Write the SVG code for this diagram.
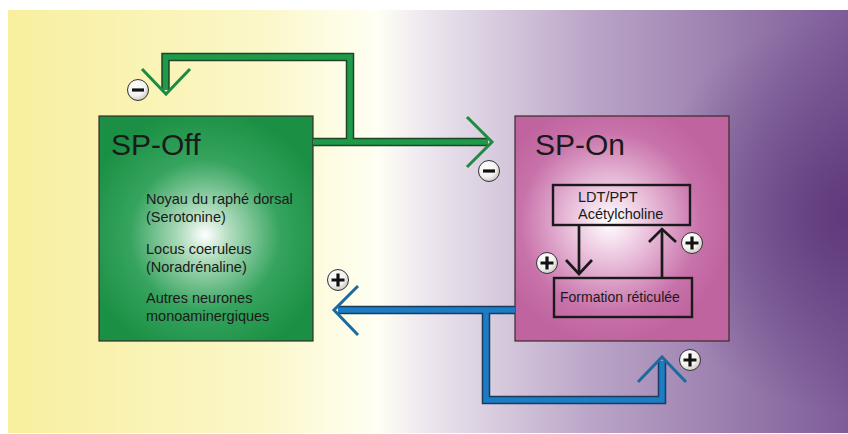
<svg xmlns="http://www.w3.org/2000/svg" width="848" height="434" viewBox="0 0 848 434">
<defs>
<linearGradient id="bg" x1="0" y1="0" x2="1" y2="0">
<stop offset="0" stop-color="#f8ef9e"/>
<stop offset="0.3" stop-color="#fbf7c8"/>
<stop offset="0.44" stop-color="#fffff4"/>
<stop offset="0.5" stop-color="#ece6ee"/>
<stop offset="0.7" stop-color="#b9a3c6"/>
<stop offset="1" stop-color="#7e5c98"/>
</linearGradient>
<radialGradient id="bgdark" cx="848" cy="215" r="200" gradientUnits="userSpaceOnUse">
<stop offset="0" stop-color="#5a3578" stop-opacity="0.9"/>
<stop offset="1" stop-color="#5a3578" stop-opacity="0"/>
</radialGradient>
<radialGradient id="gOff" cx="205" cy="235" r="125" gradientUnits="userSpaceOnUse">
<stop offset="0" stop-color="#ffffff"/>
<stop offset="0.2" stop-color="#b0dcbd"/>
<stop offset="0.6" stop-color="#36a45f"/>
<stop offset="1" stop-color="#1b9044"/>
</radialGradient>
<radialGradient id="gOn" cx="610" cy="222" r="120" gradientUnits="userSpaceOnUse">
<stop offset="0" stop-color="#ffffff"/>
<stop offset="0.3" stop-color="#ecc6df"/>
<stop offset="0.75" stop-color="#c872aa"/>
<stop offset="1" stop-color="#c0649f"/>
</radialGradient>
<radialGradient id="gCirc" cx="0.4" cy="0.35" r="0.7">
<stop offset="0" stop-color="#ffffff"/>
<stop offset="0.6" stop-color="#f4f2ee"/>
<stop offset="1" stop-color="#c8c4c0"/>
</radialGradient>
</defs>
<style>
text{font-family:"Liberation Sans",Arial,sans-serif;fill:#1a1a1a}
.title{font-size:30px}
.item{font-size:14.5px}
.box{stroke:#3a2a2a;stroke-width:1.2}
.inner{fill:none;stroke:#1a1a1a;stroke-width:2.4}
.outG{fill:none;stroke:#1d4628;stroke-width:8.5;stroke-linejoin:miter}
.inG{fill:none;stroke:#1e9a48;stroke-width:5.5;stroke-linejoin:miter}
.outB{fill:none;stroke:#1a3b5c;stroke-width:8.5;stroke-linejoin:miter}
.inB{fill:none;stroke:#1c7cc4;stroke-width:5.5;stroke-linejoin:miter}
.headG{fill:none;stroke:#1e8a42;stroke-width:3}
.headB{fill:none;stroke:#1c6a9e;stroke-width:3}
.blk{fill:none;stroke:#1a1a1a;stroke-width:2.7}
.circ{fill:url(#gCirc);stroke:#333;stroke-width:1}
.sign{stroke:#111;stroke-width:3.2;fill:none}
</style>
<rect x="8" y="10" width="840" height="423" fill="url(#bg)"/>
<rect x="8" y="10" width="840" height="423" fill="url(#bgdark)"/>

<g id="sp-off">
<rect class="box" x="99" y="116" width="214" height="225" fill="url(#gOff)"/>
<text class="title" x="111" y="155">SP-Off</text>
<text class="item" x="146" y="204">Noyau du raphé dorsal</text>
<text class="item" x="146" y="222">(Serotonine)</text>
<text class="item" x="146" y="254">Locus coeruleus</text>
<text class="item" x="146" y="272">(Noradrénaline)</text>
<text class="item" x="146" y="303">Autres neurones</text>
<text class="item" x="146" y="321">monoaminergiques</text>
</g>

<g id="sp-on">
<rect class="box" x="515" y="116" width="214" height="225" fill="url(#gOn)"/>
<text class="title" x="535" y="155">SP-On</text>
</g>

<g id="ldt-ppt">
<rect class="inner" x="553" y="185" width="137" height="40"/>
<text class="item" x="578" y="202">LDT/PPT</text>
<text class="item" x="578" y="219">Acétylcholine</text>
</g>

<g id="formation">
<rect class="inner" x="554" y="278" width="138" height="39"/>
<text class="item" x="560" y="302" style="font-size:14px">Formation réticulée</text>
</g>

<g id="connectors">
<path class="outG" d="M313 142 H488 M350 142 V57 H165.5 V90"/>
<path class="inG" d="M313 142 H488 M350 142 V57 H165.5 V90"/>
<path class="headG" d="M142 69 L166 94 L190 69"/>
<path class="headG" d="M467 117 L492 142 L467 167"/>
<path class="outB" d="M515 310 H338 M486 310 V400 H662 V361"/>
<path class="inB" d="M515 310 H338 M486 310 V400 H662 V361"/>
<path class="headB" d="M358 286 L334 310 L358 335"/>
<path class="headB" d="M638 382 L662 357 L686 382"/>
<path class="blk" d="M579 225 V273"/>
<path class="blk" d="M566 260 L579 274 L592 260"/>
<path class="blk" d="M662 278 V230"/>
<path class="blk" d="M649 242 L662 229 L676 242"/>
</g>

<g id="sign-minus-1">
<circle class="circ" cx="138" cy="90" r="10.5"/>
<path class="sign" d="M132 90 H144"/>
</g>
<g id="sign-minus-2">
<circle class="circ" cx="489" cy="171" r="10.5"/>
<path class="sign" d="M483 171 H495"/>
</g>
<g id="sign-plus-1">
<circle class="circ" cx="338" cy="280" r="10.5"/>
<path class="sign" d="M331.5 280 H344.5 M338 273.5 V286.5"/>
</g>
<g id="sign-plus-2">
<circle class="circ" cx="690" cy="360" r="10.5"/>
<path class="sign" d="M683.5 360 H696.5 M690 353.5 V366.5"/>
</g>
<g id="sign-plus-3">
<circle class="circ" cx="547" cy="263" r="10.5"/>
<path class="sign" d="M540.5 263 H553.5 M547 256.5 V269.5"/>
</g>
<g id="sign-plus-4">
<circle class="circ" cx="692" cy="243" r="10.5"/>
<path class="sign" d="M685.5 243 H698.5 M692 236.5 V249.5"/>
</g>
</svg>
